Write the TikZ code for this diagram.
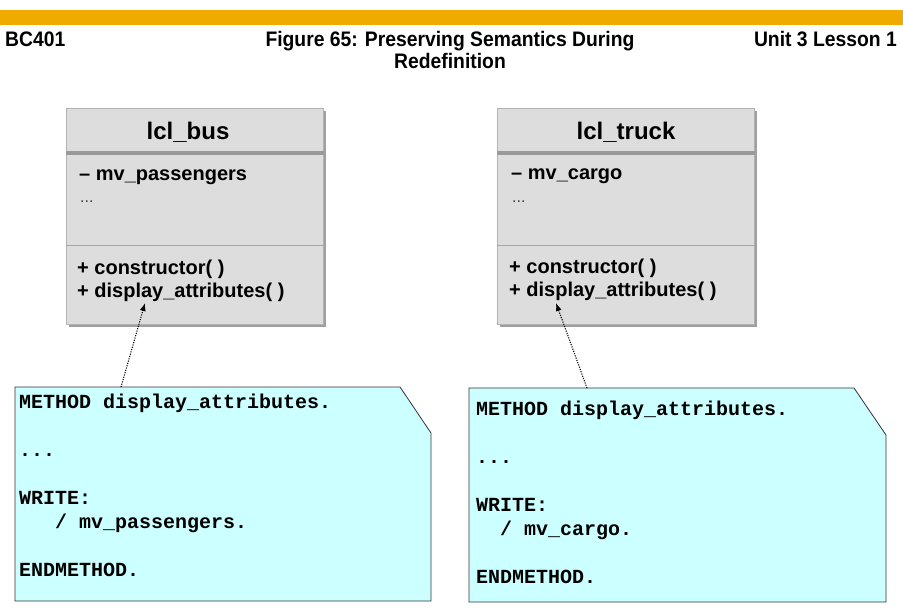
\documentclass[tikz,border=0pt]{standalone}
\usepackage{fontspec}
\setmainfont{Liberation Sans}
\setmonofont{Liberation Mono}
\newfontfamily\hdrfont[FakeStretch=0.92]{Liberation Sans}
\usetikzlibrary{arrows.meta,shadows}
\definecolor{sapgold}{RGB}{240,171,0}
\definecolor{boxgray}{RGB}{221,221,221}
\definecolor{notecyan}{RGB}{204,255,255}

\begin{document}
\begin{tikzpicture}[x=1pt,y=-1pt,
  classbox/.style={draw=gray!60,line width=0.8pt,fill=boxgray,anchor=north west,
    minimum width=257pt,minimum height=216pt,inner sep=0pt,
    drop shadow={shadow xshift=3pt,shadow yshift=-3pt,fill=gray!75,opacity=1}},
  classname/.style={font=\bfseries\fontsize{24}{28}\selectfont,inner sep=0pt},
  member/.style={font=\bfseries\fontsize{20}{24}\selectfont,anchor=base west,inner sep=0pt},
  more/.style={font=\fontsize{16}{18}\selectfont,text=black!75,anchor=base west,inner sep=0pt},
  header/.style={font=\hdrfont\bfseries\fontsize{21}{22}\selectfont,inner sep=0pt},
  notebox/.style={draw=black!80,line width=0.8pt,fill=notecyan},
  code/.style={font=\ttfamily\bfseries\fontsize{20}{23.9}\selectfont,align=left,
    anchor=base west,inner sep=0pt},
  link/.style={line width=1.1pt,dash pattern=on 1.1pt off 1.3pt,-{Latex[length=8pt,width=6pt]}}]
\useasboundingbox[fill=white] (0,0) rectangle (903,616);
\fill[sapgold] (0,10) rectangle (903,25);
\node[header,anchor=base west] (course) at (5,46) {BC401};
\node[header,anchor=base] (figtitle) at (450,46) {Figure 65: Preserving Semantics During};
\node[header,anchor=base] (figtitle2) at (450,68) {Redefinition};
\node[header,anchor=base east] (unit) at (897,46) {Unit 3 Lesson 1};

\node[classbox] (bus) at (66,108) {};
\node[classname] (bustitle) at (188,132) {lcl\_bus};
\draw[gray!80,line width=3.5pt] ([yshift=-45pt]bus.north west) -- ([yshift=-45pt]bus.north east);
\draw[gray!70,line width=0.8pt] ([yshift=-137pt]bus.north west) -- ([yshift=-137pt]bus.north east);
\node[member] (busattr) at (79,180) {– mv\_passengers};
\node[more] (busdots) at (80,202) {...};
\node[member] (busctor) at (77,274) {+ constructor( )};
\node[member] (busdisp) at (77,297) {+ display\_attributes( )};

\node[classbox] (truck) at (497,108) {};
\node[classname] (trucktitle) at (626,132) {lcl\_truck};
\draw[gray!80,line width=3.5pt] ([yshift=-45pt]truck.north west) -- ([yshift=-45pt]truck.north east);
\draw[gray!70,line width=0.8pt] ([yshift=-137pt]truck.north west) -- ([yshift=-137pt]truck.north east);
\node[member] (truckattr) at (511,179) {– mv\_cargo};
\node[more] (truckdots) at (512,202) {...};
\node[member] (truckctor) at (509,273) {+ constructor( )};
\node[member] (truckdisp) at (509,296) {+ display\_attributes( )};

\draw[notebox] (15,387) -- (400,387) -- (431,433) -- (431,601) -- (15,601) -- cycle;
\node[code] (buscode) at (19,576) {METHOD display\_attributes.\\ ~\\...\\ ~\\WRITE:\\\hphantom{xxx}/ mv\_passengers.\\ ~\\ENDMETHOD.};
\draw[notebox] (469,388) -- (854,388) -- (886,435) -- (886,602) -- (469,602) -- cycle;
\node[code] (truckcode) at (476,583) {METHOD display\_attributes.\\ ~\\...\\ ~\\WRITE:\\\hphantom{xx}/ mv\_cargo.\\ ~\\ENDMETHOD.};

\coordinate (busnote) at (121,387);
\coordinate (busref) at (145,303);
\coordinate (trucknote) at (587,388);
\coordinate (truckref) at (556,303);
\draw[link] (busnote) -- (busref);
\draw[link] (trucknote) -- (truckref);
\end{tikzpicture}
\end{document}
